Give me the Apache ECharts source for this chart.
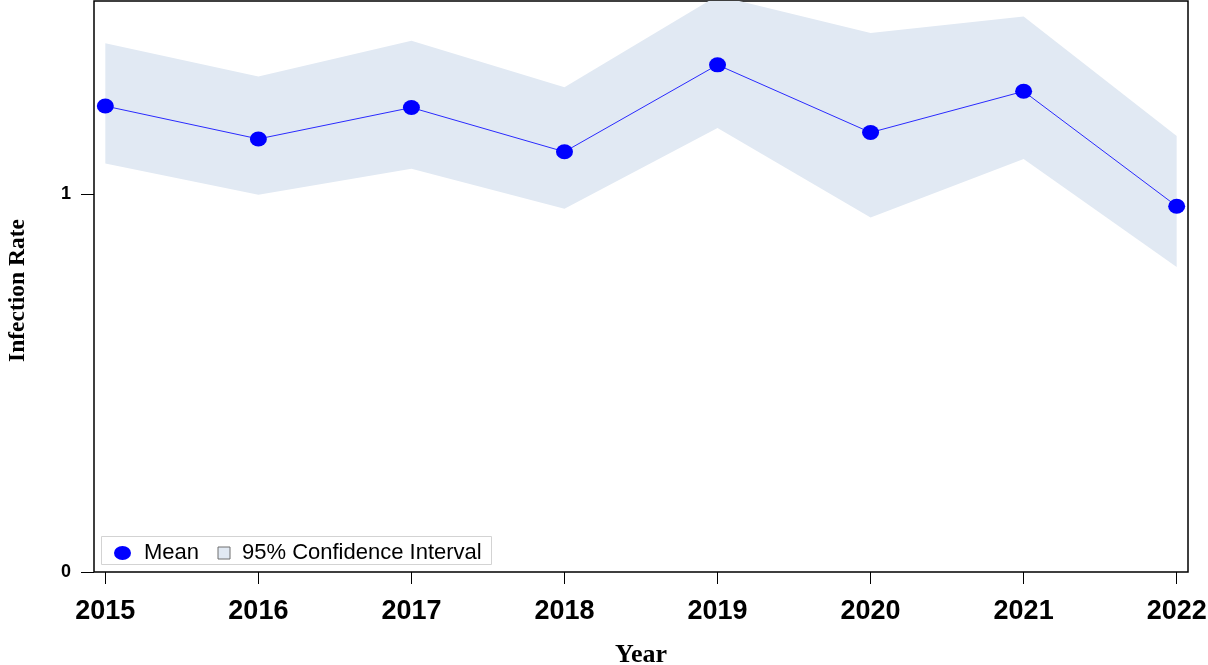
<!DOCTYPE html>
<html>
<head>
<meta charset="utf-8">
<script src="https://cdn.jsdelivr.net/npm/echarts@6/dist/echarts.min.js"></script>
<style>html,body{margin:0;padding:0;background:#fff;}#chart{width:1208px;height:665px;}</style>
</head>
<body>
<div id="chart"></div>
<script>
const years = [2015, 2016, 2017, 2018, 2019, 2020, 2021, 2022];
const meanRate = [1.233, 1.146, 1.229, 1.112, 1.342, 1.163, 1.272, 0.968];
const ciLower = [1.081, 0.998, 1.067, 0.961, 1.175, 0.938, 1.093, 0.807];
const ciUpper = [1.399, 1.311, 1.406, 1.283, 1.525, 1.426, 1.470, 1.154];
const yTicks = [0, 1];

const bandColor = '#e1e9f3';
const ellipse = 'path://M0,7A8.5,7 0 1,1 17,7A8.5,7 0 1,1 0,7Z';
const square = 'path://M0,0H10V10H0Z';

const bandData = years.map((y, i) => [y, ciLower[i], ciUpper[i]]);

function renderBand(params, api) {
  if (params.dataIndex !== 0) return null;
  const upperPts = [], lowerPts = [];
  for (let i = 0; i < bandData.length; i++) {
    upperPts.push(api.coord([bandData[i][0], bandData[i][2]]));
    lowerPts.push(api.coord([bandData[i][0], bandData[i][1]]));
  }
  const pts = upperPts.concat(lowerPts.reverse());
  const cs = params.coordSys;
  return {
    type: 'polygon',
    shape: {points: pts},
    style: {fill: bandColor, stroke: 'none'},
    clipPath: {type: 'rect', shape: {x: cs.x, y: cs.y, width: cs.width, height: cs.height}},
    silent: true
  };
}

const chart = echarts.init(document.getElementById('chart'), null, {renderer: 'canvas'});
chart.setOption({
  animation: false,
  backgroundColor: '#fff',
  grid: {left: 94, right: 20, top: 1, height: 571, show: true, borderColor: '#000', borderWidth: 1.5, backgroundColor: 'transparent', containLabel: false, outerBoundsMode: 'none'},
  xAxis: {
    type: 'value', min: 2014.926, max: 2022.074,
    name: 'Year', nameLocation: 'middle', nameGap: 70,
    nameTextStyle: {fontFamily: 'Liberation Serif', fontWeight: 'bold', fontSize: 26, color: '#000'},
    axisLine: {show: false},
    splitLine: {show: false},
    axisTick: {show: true, length: 12, customValues: years, lineStyle: {color: '#000', width: 1}},
    axisLabel: {customValues: years, margin: 26, fontFamily: 'Liberation Sans', fontWeight: 'bold', fontSize: 27, color: '#000', formatter: v => String(v)}
  },
  yAxis: {
    type: 'value', min: 0, max: 1.511,
    name: 'Infection Rate', nameLocation: 'middle', nameRotate: 90, nameGap: 64,
    nameTextStyle: {fontFamily: 'Liberation Serif', fontWeight: 'bold', fontSize: 23.5, color: '#000', padding: [0, 8, 0, 0]},
    axisLine: {show: false},
    splitLine: {show: false},
    axisTick: {show: true, length: 13, customValues: yTicks, lineStyle: {color: '#000', width: 1}},
    axisLabel: {customValues: yTicks, margin: 23, fontFamily: 'Liberation Sans', fontWeight: 'bold', fontSize: 18, color: '#000', formatter: v => String(v)}
  },
  graphic: [{
    type: 'rect', z: 5, silent: true,
    shape: {x: 101.5, y: 536.5, width: 390, height: 28},
    style: {fill: '#fff', stroke: '#d3d3d3', lineWidth: 1}
  }],
  legend: [{
    left: 114, top: 542, padding: 0, itemWidth: 33, itemHeight: 14, z: 10,
    textStyle: {fontFamily: 'Liberation Sans', fontSize: 22, color: '#000'},
    data: [{name: 'Mean', icon: ellipse, itemStyle: {color: '#0000ff', borderWidth: 0}}]
  }, {
    left: 217.5, top: 542, padding: 0, itemWidth: 26, itemHeight: 12, z: 10,
    textStyle: {fontFamily: 'Liberation Sans', fontSize: 22, color: '#000'},
    data: [{name: '95% Confidence Interval', icon: square, itemStyle: {color: bandColor, borderColor: '#6e6e6e', borderWidth: 1}}]
  }],
  series: [{
    name: '95% Confidence Interval', type: 'custom', silent: true,
    color: bandColor,
    data: bandData,
    encode: {x: 0, y: [1, 2]},
    renderItem: renderBand, z: 1
  }, {
    name: 'Mean', type: 'line', color: '#0000ff',
    data: years.map((y, i) => [y, meanRate[i]]),
    symbol: ellipse, symbolSize: [17, 15],
    itemStyle: {color: '#0000ff'},
    lineStyle: {color: '#2a2aff', width: 1}, z: 3
  }]
});
</script>
</body>
</html>
